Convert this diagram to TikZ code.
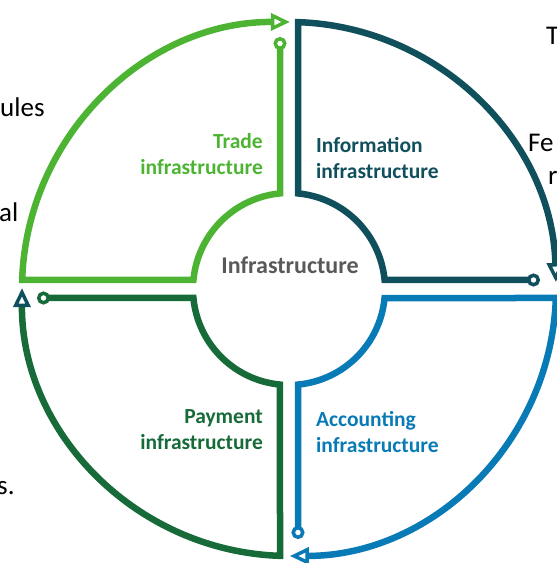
\documentclass[tikz,border=0pt]{standalone}
\usepackage{fontspec}
\setmainfont{Carlito}
\usetikzlibrary{arrows.meta}
\definecolor{tradeg}{RGB}{77,180,51}
\definecolor{infot}{RGB}{16,80,92}
\definecolor{accb}{RGB}{8,123,183}
\definecolor{payg}{RGB}{22,107,56}
\definecolor{centg}{RGB}{89,89,91}
\tikzset{
  ring/.style={line width=6.5pt, line join=miter},
  ends/.style={{Circle[open,length=13pt,width=13pt,line width=3.5pt,fill=white]}-{Triangle[open,length=19pt,width=17pt,line width=3.5pt,fill=white,#1]}},
  lab/.style={inner sep=0pt, font=\bfseries\fontsize{21.5}{26}\selectfont},
  bgtext/.style={inner sep=0pt, font=\fontsize{27}{32}\selectfont, text=black}
}
\begin{document}
\begin{tikzpicture}[x=1pt,y=1pt]
\useasboundingbox (0,0) rectangle (557,563);
% background text fragments
\node[bgtext, anchor=base west] (t1) at (546,518) {T};
\node[bgtext, anchor=base west] (t2) at (0,446) {ules};
\node[bgtext, anchor=base west] (t3) at (-1,341) {al};
\node[bgtext, anchor=base west] (t4) at (528,411) {Fe};
\node[bgtext, anchor=base west] (t5) at (548,378) {r};
\node[bgtext, anchor=base west] (t6) at (-3,68) {s.};
\begin{scope}[shift={(289,274)}]
% Trade
\draw[ring, tradeg, ends={}] (-9,252) -- (-9,95.58) arc[start angle=95.38, end angle=174.62, radius=96]
  -- (-266.85,9) arc[start angle=178.07, end angle=89.8, radius=267];
% Information
\draw[ring, infot, ends={}] (251,9) -- (95.58,9) arc[start angle=5.38, end angle=84.62, radius=96]
  -- (9,266.85) arc[start angle=88.07, end angle=1.5, radius=267];
% Accounting
\draw[ring, accb, ends={}] (9,-250) -- (9,-95.58) arc[start angle=-84.62, end angle=-5.38, radius=96]
  -- (266.85,-9) arc[start angle=-1.93, end angle=-89.8, radius=267];
% Payment
\draw[ring, payg, ends={color=infot}] (-252,-9) -- (-95.58,-9) arc[start angle=-174.62, end angle=-95.38, radius=96]
  -- (-9,-266.85) arc[start angle=-91.93, end angle=-180.2, radius=267];
% labels
\node[lab, text=centg, font=\bfseries\fontsize{24}{28}\selectfont] (c) at (1,24) {Infrastructure};
\node[lab, text=tradeg, align=right, anchor=east] (tr) at (-26,134.5) {Trade\\infrastructure};
\node[lab, text=infot, align=left, anchor=west] (in) at (27,131) {Information\\infrastructure};
\node[lab, text=payg, align=right, anchor=east] (pa) at (-26,-141) {Payment\\infrastructure};
\node[lab, text=accb, align=left, anchor=west] (ac) at (27,-143) {Accounting\\infrastructure};
\end{scope}
\end{tikzpicture}
\end{document}
